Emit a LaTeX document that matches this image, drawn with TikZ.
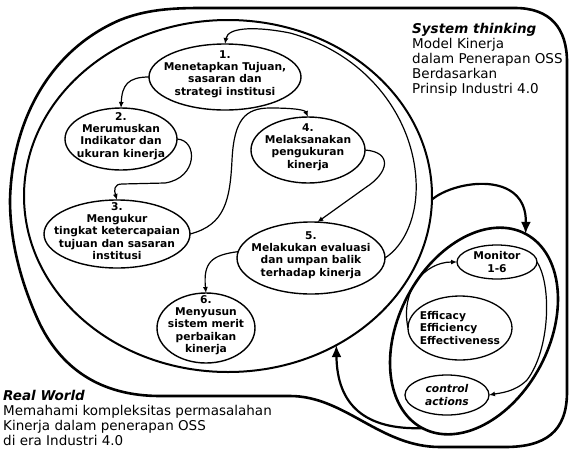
\documentclass[tikz,border=0pt]{standalone}
\usepackage{fontspec}
\setmainfont{DejaVu Sans}
\usetikzlibrary{arrows.meta,shapes.geometric}

\begin{document}
\begin{tikzpicture}[x=1pt,y=-1pt,
  stage/.style={draw, ellipse, line width=1.4pt, inner sep=0pt, outer sep=0pt},
  stagetext/.style={align=center, inner sep=0pt, font=\bfseries\fontsize{10.7}{12.3}\selectfont},
  flow/.style={line width=1.2pt, -{Latex[length=6pt,width=5pt]}},
  bigflow/.style={line width=2.2pt, -{Latex[length=12pt,width=10pt]}},
  note/.style={align=left, inner sep=0pt, anchor=north west, font=\fontsize{13.5}{15}\selectfont},
]
\useasboundingbox (0,0) rectangle (571,451);

% real world boundary
\draw[line width=2.6pt, line join=round]
  (200,8) -- (515,8) .. controls (550,8) and (567,28) .. (567,62)
  -- (567,392) .. controls (567,432) and (545,447) .. (505,447)
  -- (440,447) .. controls (380,447) and (345,396) .. (290,396)
  -- (160,396) .. controls (100,396) and (60,368) .. (38,320)
  .. controls (20,280) and (10,240) .. (10,200)
  .. controls (12,120) and (50,50) .. (120,20)
  .. controls (145,10) and (170,8) .. (200,8) -- cycle;

% system thinking boundary
\node[draw, ellipse, line width=2pt, inner sep=0pt, outer sep=0pt,
      minimum width=408pt, minimum height=352pt] (big) at (228,196) {};

% control loop
\node[draw, ellipse, rotate=62, line width=2.6pt, inner sep=0pt, outer sep=0pt,
      minimum width=220pt, minimum height=150pt] (loop) at (474,331) {};

% six stages
\node[stage, minimum width=152pt, minimum height=66pt] (n1) at (225,77) {};
\node[stage, minimum width=112pt, minimum height=62pt] (n2) at (121,139) {};
\node[stage, minimum width=146pt, minimum height=68pt] (n3) at (117,234) {};
\node[stage, minimum width=114pt, minimum height=66pt] (n4) at (308,150) {};
\node[stage, minimum width=148pt, minimum height=72pt] (n5) at (311,258) {};
\node[stage, minimum width=98pt, minimum height=70pt] (n6) at (206,328) {};

\node[stagetext] (t1) at ([yshift=3pt]n1.center) {1.\\Menetapkan Tujuan,\\sasaran dan\\strategi institusi};
\node[stagetext] (t2) at ([yshift=3pt]n2.center) {2.\\Merumuskan\\Indikator dan\\ukuran kinerja};
\node[stagetext] (t3) at ([yshift=3pt]n3.center) {3.\\Mengukur\\tingkat ketercapaian\\tujuan dan sasaran\\institusi};
\node[stagetext] (t4) at ([yshift=3pt]n4.center) {4.\\Melaksanakan\\pengukuran\\kinerja};
\node[stagetext] (t5) at ([yshift=3pt]n5.center) {5.\\Melakukan evaluasi\\dan umpan balik\\terhadap kinerja};
\node[stagetext] (t6) at ([yshift=3pt]n6.center) {6.\\Menyusun\\sistem merit\\perbaikan\\kinerja};

% loop contents
\node[stage, line width=1.3pt, minimum width=80pt, minimum height=34pt] (mon) at (497,262) {};
\node[stage, line width=1.3pt, minimum width=104pt, minimum height=64pt] (eff) at (460,328) {};
\node[stage, line width=1.3pt, minimum width=84pt, minimum height=40pt] (ctrl) at (447,395) {};
\node[stagetext] (tm) at (mon.center) {Monitor\\1-6};
\node[stagetext, align=left] (te) at (eff.center) {Efficacy\\Efficiency\\Effectiveness};
\node[stagetext, font=\bfseries\itshape\fontsize{10.7}{12.3}\selectfont] (tc) at (ctrl.center) {control\\actions};

% flow between stages
\draw[flow] (n1.west) .. controls (128,77) and (122,85) .. (n2.north);
\draw[flow] (n2.east) .. controls (198,140) and (198,178) .. (165,183)
  -- (122,184) .. controls (114,184) and (114,190) .. (n3.north);
\draw[flow] (n3.east) .. controls (225,225) and (230,200) .. (232,160)
  .. controls (234,120) and (245,108) .. (270,108)
  .. controls (295,108) and (305,110) .. (n4.north);
\draw[flow] (n4.east) .. controls (392,152) and (390,172) .. (365,188) -- (n5.80);
\draw[flow] (n5.175) .. controls (212,255) and (203,262) .. (n6.north);
\draw[flow] (n5.east) .. controls (405,245) and (418,215) .. (416,180)
  .. controls (413,120) and (370,55) .. (290,33)
  .. controls (260,27) and (228,26) .. (n1.north);

% flow inside the control loop
\draw[flow] (eff.west) .. controls (400,290) and (425,262) .. (mon.west);
\draw[flow] (mon.east) .. controls (552,285) and (550,350) .. (527,380)
  .. controls (515,392) and (500,393) .. (ctrl.east);

% links between system thinking and control loop
\draw[bigflow] (big.-1.5) .. controls (455,180) and (527,170) .. (loop.east);
\draw[bigflow] (loop.west) .. controls (365,430) and (337,405) .. (big.-54);

% captions
\node[note] (sys) at (412,22.7) {\textbf{\textit{System thinking}}\\Model Kinerja\\dalam Penerapan OSS\\Berdasarkan\\Prinsip Industri 4.0};
\node[note] (real) at (3,389.7) {\textbf{\textit{Real World}}\\Memahami kompleksitas permasalahan\\Kinerja dalam penerapan OSS\\di era Industri 4.0};
\end{tikzpicture}
\end{document}
